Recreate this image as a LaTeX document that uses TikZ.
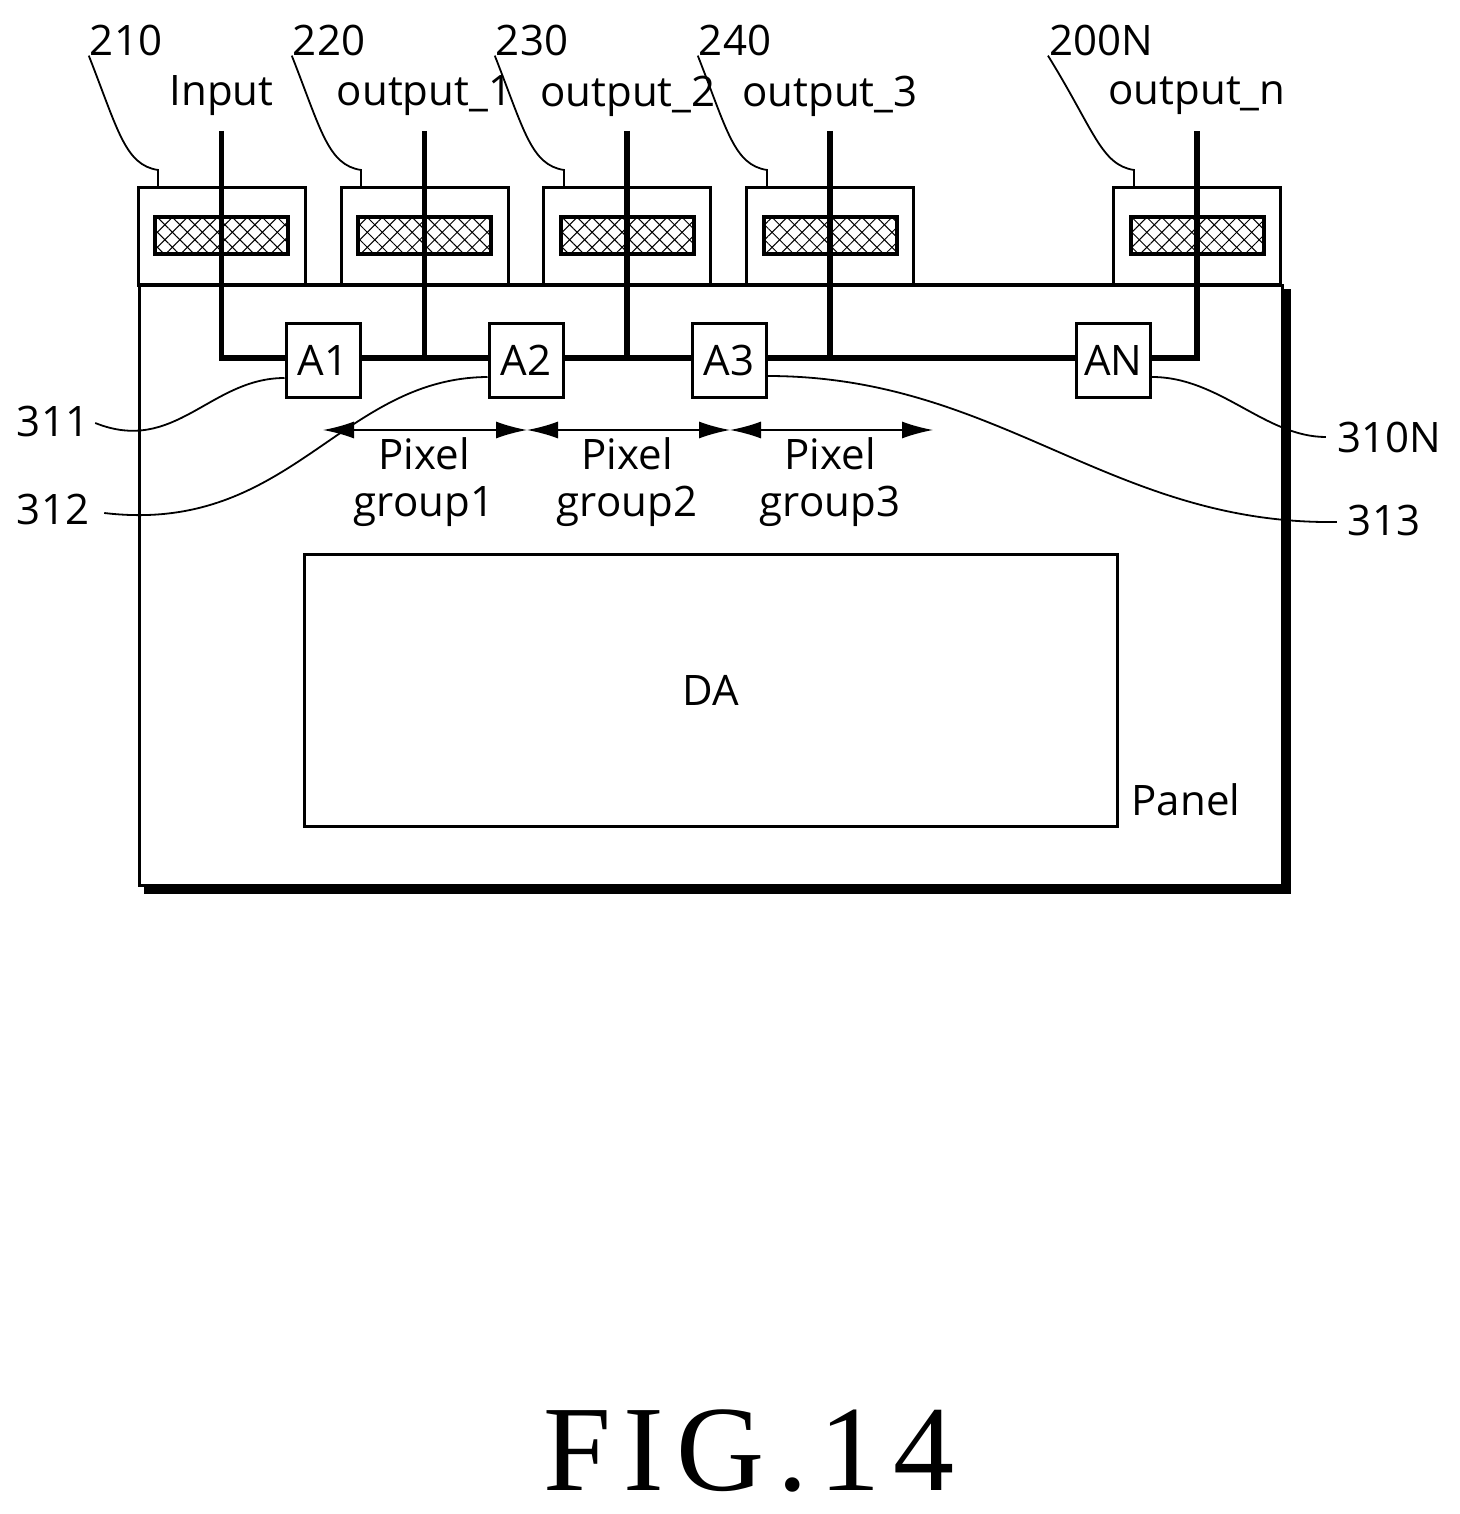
\documentclass[tikz,border=0pt]{standalone}
\usepackage{fontspec}
\setmainfont{Open Sans}
\newfontfamily\figfont[LetterSpace=10]{Liberation Serif}
\usetikzlibrary{patterns.meta,arrows.meta}
\tikzset{
 x=1pt,y=-1pt,
 lab/.style={font=\fontsize{42}{42}\selectfont,inner sep=0pt},
 chip/.style={draw,line width=3pt,minimum width=167pt,minimum height=98pt,inner sep=0pt},
 hatch/.style={draw,line width=4pt,minimum width=133pt,minimum height=37pt,inner sep=0pt,pattern={Lines[angle=45,distance=10.6pt,line width=1pt]},postaction={pattern={Lines[angle=-45,distance=10.6pt,line width=1pt]}}},
 sw/.style={draw,fill=white,line width=3pt,minimum width=74pt,minimum height=74pt,inner sep=0pt,font=\fontsize{42}{42}\selectfont},
 wire/.style={line width=5.5pt,line join=miter},
 lead/.style={line width=1.8pt},
 dim/.style={line width=1.5pt,{Latex[length=31pt,width=17pt]}-{Latex[length=31pt,width=17pt]},shorten >=0pt},
}
\begin{document}
\begin{tikzpicture}
\useasboundingbox (0,0) rectangle (1459,1514);
% panel with shadow
\fill[black] (144,289) rectangle (1291,894);
\node[draw,fill=white,line width=3pt,minimum width=1143pt,minimum height=600pt,inner sep=0pt,anchor=north west] (panel) at (138,284) {};
% chips
\foreach \n/\cx in {c1/221.5,c2/424.5,c3/627,c4/830,cn/1197}{
 \node[chip,fill=white,anchor=north] (\n) at (\cx,186) {};
 \node[hatch] (\n h) at (\cx,235.5) {};
}
\draw[line width=3pt] (138,284) -- (1281,284);
% top signal labels
\node[lab] (tin) at (221.5,96) {Input};
\node[lab] (t1) at (424.5,96) {output\_1};
\node[lab] (t2) at (628,96) {output\_2};
\node[lab] (t3) at (830,96) {output\_3};
\node[lab] (tn) at (1197,96) {output\_n};
% number labels
\node[lab] (n210) at (126,40) {210};
\node[lab] (n220) at (329,40) {220};
\node[lab] (n230) at (532,40) {230};
\node[lab] (n240) at (735,40) {240};
\node[lab] (n200) at (1101,40) {200N};
\node[lab] (n311) at (53,421) {311};
\node[lab] (n312) at (53,509) {312};
\node[lab] (n313) at (1384,520) {313};
\node[lab] (n310) at (1389,437) {310N};
% switches
\node[sw] (a1) at (323,360) {A1};
\node[sw] (a2) at (526,360) {A2};
\node[sw] (a3) at (729,360) {A3};
\node[sw] (an) at (1113.5,360) {AN};
% wires
\coordinate (w0) at (221.5,358);
\coordinate (w1) at (424.5,358);
\coordinate (w2) at (627,358);
\coordinate (w3) at (830,358);
\coordinate (wn) at (1197,358);
\draw[wire] (221.5,131) -- (w0) -- (a1.west|-w0);
\draw[wire] (a1.east|-w0) -- (a2.west|-w0);
\draw[wire] (a2.east|-w0) -- (a3.west|-w0);
\draw[wire] (a3.east|-w0) -- (an.west|-w0);
\draw[wire] (an.east|-w0) -- (wn) -- (1197,131);
\draw[wire] (424.5,131) -- (w1);
\draw[wire] (627,131) -- (w2);
\draw[wire] (830,131) -- (w3);
% panel text
\node[draw,line width=3pt,minimum width=813pt,minimum height=272pt,anchor=north west,inner sep=0pt,font=\fontsize{42}{42}\selectfont] (da) at (303,553) {DA};
\node[lab] (panelt) at (1186,800) {Panel};
% pixel groups
\coordinate (p0) at (323,430);
\coordinate (p1) at (527,430);
\coordinate (p2) at (730,430);
\coordinate (p3) at (933,430);
\draw[dim] (p0) -- (p1);
\draw[dim] (p1) -- (p2);
\draw[dim] (p2) -- (p3);
\node[lab,align=center,font=\fontsize{42}{47}\selectfont] (g1) at (424,482) {Pixel\\group1};
\node[lab,align=center,font=\fontsize{42}{47}\selectfont] (g2) at (627,482) {Pixel\\group2};
\node[lab,align=center,font=\fontsize{42}{47}\selectfont] (g3) at (830,482) {Pixel\\group3};
% leaders
\draw[lead] (n210.south west)++(-1,0) .. controls (118,130) and (125,165) .. (158,170) -- (158,186);
\draw[lead] (n220.south west)++(-1,0) .. controls (321,130) and (328,165) .. (361,170) -- (361,186);
\draw[lead] (n230.south west)++(-1,0) .. controls (524,130) and (531,165) .. (564,170) -- (564,186);
\draw[lead] (n240.south west)++(-1,0) .. controls (727,130) and (734,165) .. (767,170) -- (767,186);
\draw[lead] (n200.south west)++(-1,0) .. controls (1094,130) and (1101,165) .. (1134,170) -- (1134,186);
\draw[lead] (n311.east)++(6,2) .. controls (175,455) and (210,378) .. (a1.west|-0,378);
\draw[lead] (n312.east)++(15,4) .. controls (290,535) and (340,378) .. (a2.west|-0,377);
\draw[lead] (n313.west)++(-11,2) .. controls (1110,525) and (1000,376) .. (a3.east|-0,376);
\draw[lead] (n310.west)++(-11,0) .. controls (1265,437) and (1220,377) .. (an.east|-0,377);
% title
\node[inner sep=0pt,font=\figfont\fontsize{122}{122}\selectfont] (fig) at (749,1451) {FIG.14};
\end{tikzpicture}
\end{document}
